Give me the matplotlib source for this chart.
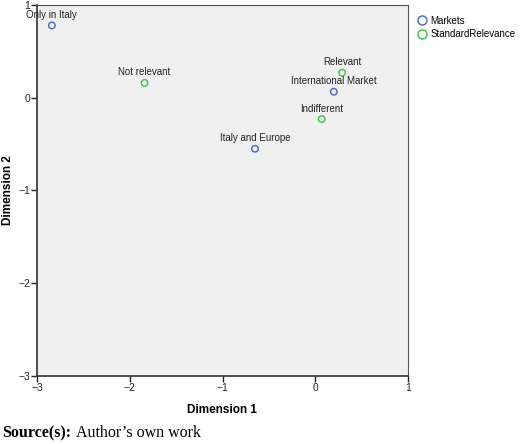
import matplotlib
matplotlib.use("Agg")
import matplotlib.pyplot as plt
from matplotlib.lines import Line2D

market_labels = ["Only in Italy", "Italy and Europe", "International Market"]
market_x = [-2.84, -0.65, 0.20]
market_y = [0.78, -0.55, 0.065]

relevance_labels = ["Not relevant", "Relevant", "Indifferent"]
relevance_x = [-1.84, 0.29, 0.07]
relevance_y = [0.16, 0.27, -0.23]

ticks = [-3, -2, -1, 0, 1]

blue = "#4a63c2"
green = "#3cbf4c"

plt.rcParams['font.family'] = ['Liberation Sans', 'DejaVu Sans']
fig = plt.figure(figsize=(5.2, 4.44), dpi=100)
ax = fig.add_axes([37/520, 1-376/444, (408-37)/520, (376-5)/444])
ax.set_facecolor("#f0f0f0")

ax.scatter(market_x, market_y, s=22, facecolors='none', edgecolors=blue, linewidths=1.0, zorder=3)
ax.scatter(relevance_x, relevance_y, s=22, facecolors='none', edgecolors=green, linewidths=1.0, zorder=3)

for lab, x, y in zip(market_labels + relevance_labels, market_x + relevance_x, market_y + relevance_y):
    ax.annotate(lab, (x, y), xytext=(0, 4), textcoords='offset points', ha='center', va='bottom',
                fontsize=7, color='#222222')

ax.set_xlim(-3, 1)
ax.set_ylim(-3, 1)
ax.set_xticks(ticks)
ax.set_yticks(ticks)
ax.set_xticklabels([f"{t}".replace("-", "\u2212") for t in ticks])
ax.set_yticklabels([f"{t}".replace("-", "\u2212") for t in ticks])
ax.tick_params(axis='both', direction='out', length=4, width=1, labelsize=7.5, colors='#222222', pad=1)
for side in ['top', 'right']:
    ax.spines[side].set_color('#555555')
    ax.spines[side].set_linewidth(0.8)
for side in ['left', 'bottom']:
    ax.spines[side].set_color('#333333')
    ax.spines[side].set_linewidth(1.2)

fig.text(222/520, 1-410/444, "Dimension 1", fontsize=8.5, fontweight='bold', ha='center', va='center')
fig.text(8/520, 1-190/444, "Dimension 2", fontsize=8.5, fontweight='bold', ha='center', va='center', rotation=90)

handles = [Line2D([], [], marker='o', linestyle='none', markerfacecolor='none', markeredgecolor=blue, markersize=6.5, label='Markets'),
           Line2D([], [], marker='o', linestyle='none', markerfacecolor='none', markeredgecolor=green, markersize=6.5, label='StandardRelevance')]
fig.legend(handles=handles, loc='upper left', bbox_to_anchor=(412/520, 1-12/444), frameon=False,
           fontsize=7, handletextpad=0.3, labelspacing=0.35, borderaxespad=0, handlelength=1.2)

fig.text(2/520, 1-433/444, "Source(s):", fontsize=11.5, fontweight='bold', family=['Liberation Serif'], va='center')
fig.text(76/520, 1-433/444, "Author\u2019s own work", fontsize=11.5, family=['Liberation Serif'], va='center')

fig.savefig("out.png", dpi=100)
